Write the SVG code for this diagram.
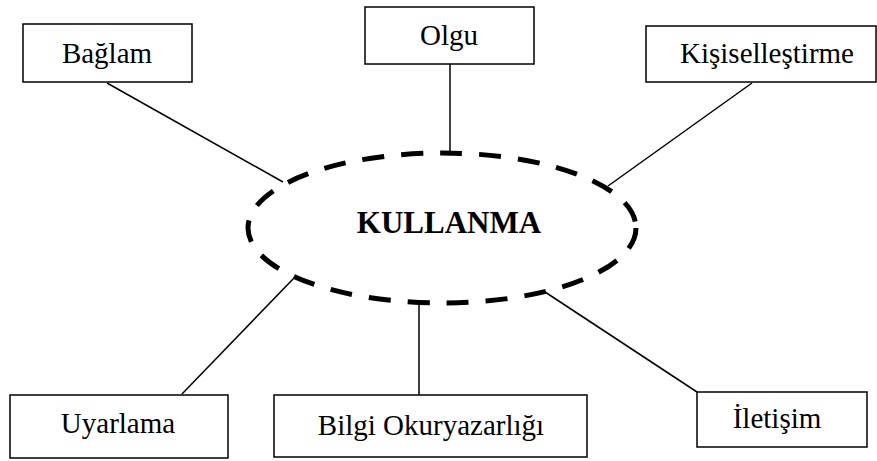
<svg xmlns="http://www.w3.org/2000/svg" width="877" height="461" viewBox="0 0 877 461">
  <style>
    .box { fill: #ffffff; stroke: #000000; stroke-width: 1.5; }
    .label { font-family: "Liberation Serif", "Times New Roman", serif; font-size: 29px; fill: #000000; text-anchor: middle; }
    .title { font-family: "Liberation Serif", "Times New Roman", serif; font-size: 31px; font-weight: bold; fill: #000000; text-anchor: middle; }
    .link { stroke: #000000; stroke-width: 1.5; fill: none; }
    .hub { fill: #ffffff; stroke: #000000; stroke-width: 5; stroke-dasharray: 22 17; }
  </style>

  <!-- connectors from the central concept to each item -->
  <g id="connectors">
    <line class="link" x1="107" y1="83" x2="283" y2="182"/>
    <line class="link" x1="450" y1="64" x2="450" y2="155"/>
    <line class="link" x1="752" y1="83" x2="608" y2="186"/>
    <line class="link" x1="182" y1="394" x2="295" y2="277"/>
    <line class="link" x1="419" y1="395" x2="419" y2="300"/>
    <line class="link" x1="697" y1="392" x2="542" y2="290"/>
  </g>

  <!-- central concept -->
  <g id="kullanma">
    <ellipse class="hub" cx="442" cy="228" rx="194" ry="75"/>
    <text class="title" x="449" y="233">KULLANMA</text>
  </g>

  <g id="baglam">
    <rect class="box" x="23" y="24" width="169" height="58"/>
    <text class="label" x="107" y="63">Bağlam</text>
  </g>

  <g id="olgu">
    <rect class="box" x="365" y="7" width="169" height="57"/>
    <text class="label" x="449" y="45">Olgu</text>
  </g>

  <g id="kisisellestirme">
    <rect class="box" x="646" y="26" width="230" height="56"/>
    <text class="label" x="767" y="63">Kişiselleştirme</text>
  </g>

  <g id="uyarlama">
    <rect class="box" x="10" y="395" width="218" height="63"/>
    <text class="label" x="118" y="433">Uyarlama</text>
  </g>

  <g id="bilgi-okuryazarligi">
    <rect class="box" x="274" y="395" width="313" height="62"/>
    <text class="label" x="431" y="435">Bilgi Okuryazarlığı</text>
  </g>

  <g id="iletisim">
    <rect class="box" x="697" y="392" width="170" height="55"/>
    <text class="label" x="777" y="428">İletişim</text>
  </g>
</svg>
